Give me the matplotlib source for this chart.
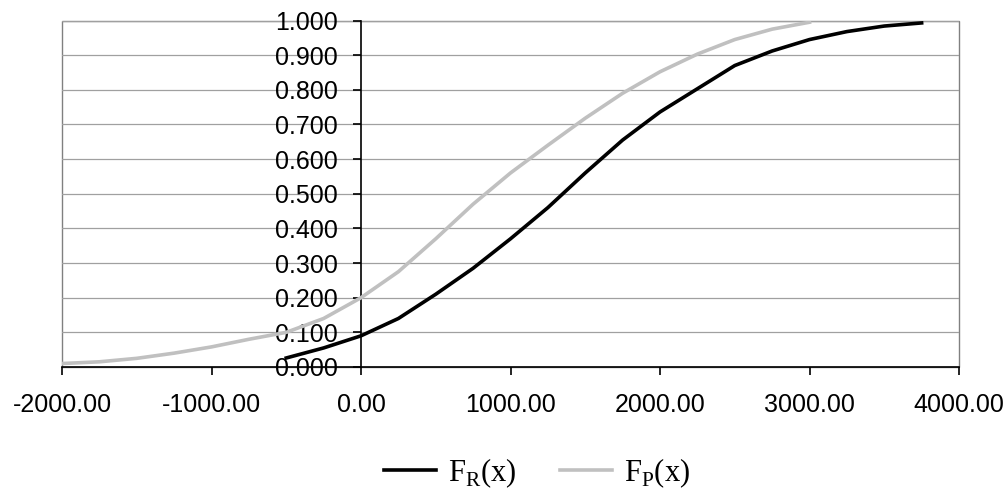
import matplotlib.pyplot as plt
import numpy as np

plt.rcParams['mathtext.fontset'] = 'custom'
plt.rcParams['mathtext.rm'] = 'Liberation Serif'

# F_R(x) - black curve
x_r = [-500, -250, 0, 250, 500, 750, 1000, 1250, 1500, 1750,
       2000, 2250, 2500, 2750, 3000, 3250, 3500, 3750]
y_r = [0.026, 0.055, 0.090, 0.140, 0.210, 0.285, 0.370, 0.460, 0.560, 0.655,
       0.736, 0.803, 0.870, 0.912, 0.945, 0.968, 0.984, 0.993]

# F_P(x) - gray curve
x_p = [-2000, -1750, -1500, -1250, -1000, -750, -500, -250, 0, 250, 500,
       750, 1000, 1250, 1500, 1750, 2000, 2250, 2500, 2750, 3000]
y_p = [0.010, 0.015, 0.025, 0.040, 0.058, 0.080, 0.100, 0.140, 0.200, 0.275, 0.370,
       0.470, 0.560, 0.640, 0.718, 0.790, 0.852, 0.903, 0.945, 0.975, 0.995]

x_ticks = [-2000, -1000, 0, 1000, 2000, 3000, 4000]
y_ticks = [0.0, 0.1, 0.2, 0.3, 0.4, 0.5, 0.6, 0.7, 0.8, 0.9, 1.0]

fig = plt.figure(figsize=(10.06, 4.95), dpi=100)
ax = fig.add_axes([62/1006, 1 - 367/495, (959 - 62)/1006, (367 - 20.5)/495])

ax.plot(x_r, y_r, color='black', linewidth=2.6, label=r'F$_{\mathrm{R}}$(x)',
        zorder=3, solid_joinstyle='round')
ax.plot(x_p, y_p, color='#c0c0c0', linewidth=2.6, label=r'F$_{\mathrm{P}}$(x)',
        zorder=3, solid_joinstyle='round')

ax.set_xlim(-2000, 4000)
ax.set_ylim(0, 1)
ax.set_xticks(x_ticks)
ax.set_yticks(y_ticks)
ax.set_xticklabels(['%.2f' % v for v in x_ticks])
ax.set_yticklabels(['%.3f' % v for v in y_ticks])

ax.yaxis.grid(True, color='#a0a0a0', linewidth=0.9)
ax.set_axisbelow(True)

# frame in gray, axes through zero in black
ax.patch.set_edgecolor('#808080')
ax.patch.set_linewidth(1.0)
ax.spines['top'].set_visible(False)
ax.spines['right'].set_visible(False)
ax.spines['left'].set_position(('data', 0))
for s in ['left', 'bottom']:
    ax.spines[s].set_color('black')
    ax.spines[s].set_linewidth(1.2)

ax.tick_params(axis='x', direction='out', length=6, width=1.2, pad=13,
               labelsize=18, labelfontfamily='Liberation Sans')
ax.tick_params(axis='y', direction='out', length=6, width=1.2, pad=11,
               labelsize=18, labelfontfamily='Liberation Sans')

fig.legend(loc='center', bbox_to_anchor=(537/1006, 1 - 473/495), ncol=2,
           frameon=False, prop={'family': 'Liberation Serif', 'size': 22},
           handlelength=1.7, handletextpad=0.4, columnspacing=1.4)

fig.savefig('out.png', dpi=100)
